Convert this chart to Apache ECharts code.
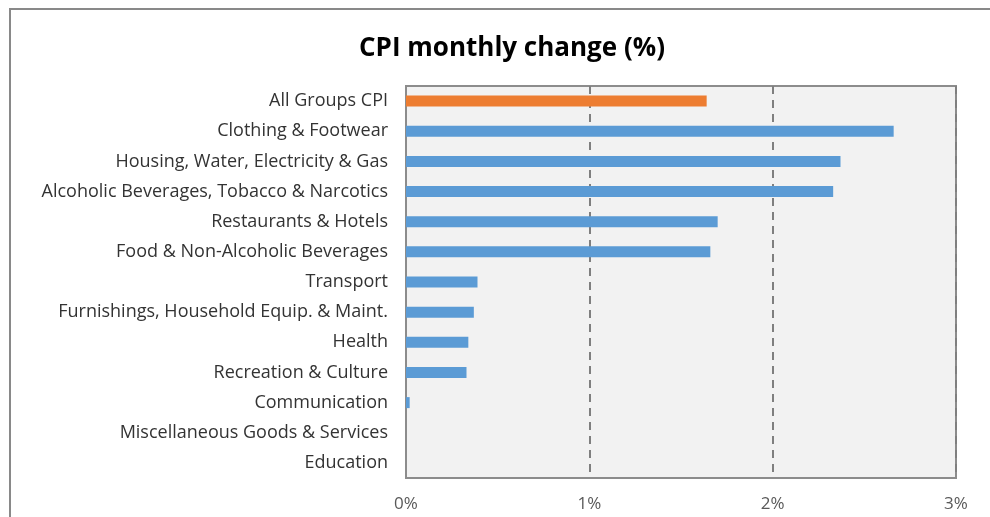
<!DOCTYPE html>
<html>
<head>
<meta charset="utf-8">
<script src="https://cdn.jsdelivr.net/npm/echarts@6/dist/echarts.min.js"></script>
<style>
  html, body { margin: 0; padding: 0; background: #fff; }
  #cpiBar { width: 990px; height: 517px; }
</style>
</head>
<body>
<div id="cpiBar"></div>
<script>
// categories top to bottom
const categories = [
  'All Groups CPI',
  'Clothing & Footwear',
  'Housing, Water, Electricity & Gas',
  'Alcoholic Beverages, Tobacco & Narcotics',
  'Restaurants & Hotels',
  'Food & Non-Alcoholic Beverages',
  'Transport',
  'Furnishings, Household Equip. & Maint.',
  'Health',
  'Recreation & Culture',
  'Communication',
  'Miscellaneous Goods & Services',
  'Education'
]
// monthly change in %
const changes = [1.64, 2.66, 2.37, 2.33, 1.70, 1.66, 0.39, 0.37, 0.34, 0.33, 0.02, 0, 0]
const xTicks = [0, 1, 2, 3]

const font = '"Open Sans", "Noto Sans", sans-serif'
const myChart = echarts.init(document.getElementById('cpiBar'))

const option = {
  animation: false,
  title: {
    text: 'CPI monthly change (%)',
    left: 507,
    top: 31,
    textAlign: 'center',
    textStyle: {
      fontFamily: font,
      fontSize: 26,
      fontWeight: 'bold',
      color: '#000'
    }
  },
  graphic: [
    {
      type: 'rect',
      shape: { x: 10, y: 9, width: 1000, height: 530 },
      style: { fill: 'none', stroke: '#898989', lineWidth: 2 },
      silent: true
    }
  ],
  grid: {
    left: 406,
    right: 34,
    top: 86,
    bottom: 39,
    show: true,
    backgroundColor: '#F2F2F2',
    borderColor: '#8C8C8C',
    borderWidth: 2
  },
  xAxis: {
    type: 'value',
    min: xTicks[0],
    max: xTicks[xTicks.length - 1],
    interval: 1,
    axisLine: { show: false },
    axisTick: { show: false },
    axisLabel: {
      margin: 18,
      fontFamily: font,
      fontSize: 17,
      color: '#595959',
      formatter: v => v + '%'
    },
    splitLine: {
      show: true,
      lineStyle: { type: [8, 6], color: '#7F7F7F', width: 2 }
    }
  },
  yAxis: {
    type: 'category',
    inverse: true,
    data: categories,
    axisLine: { show: true, lineStyle: { color: '#8C8C8C', width: 2 } },
    axisTick: { show: false },
    axisLabel: {
      margin: 18,
      fontFamily: font,
      fontSize: 18,
      color: '#333333'
    }
  },
  series: [
    {
      type: 'bar',
      barWidth: 11,
      data: changes.map((v, i) => ({
        value: v,
        itemStyle: { color: i === 0 ? '#ED7D31' : '#5B9BD5' }
      }))
    }
  ]
}
myChart.setOption(option)
</script>
</body>
</html>
